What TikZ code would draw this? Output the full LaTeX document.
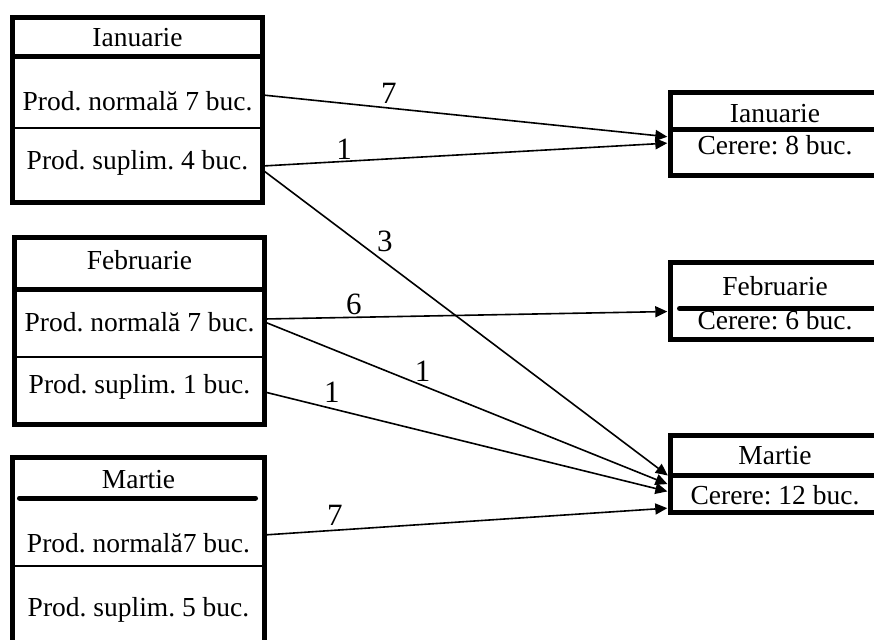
\documentclass[tikz,border=0pt]{standalone}
\usepackage{fontspec}
\setmainfont{Liberation Serif}
\usetikzlibrary{arrows.meta}
\frenchspacing

\begin{document}
\begin{tikzpicture}[x=1pt, y=-1pt,
    row/.style={minimum width=250pt, inner sep=0pt, font=\fontsize{27.5}{33}\selectfont},
    need/.style={row, minimum width=210pt},
    frame/.style={line width=5pt},
    rule/.style={line width=1.5pt},
    flow/.style={line width=1.6pt, -{Triangle[length=12pt,width=11pt]}, shorten >=2.5pt},
    qty/.style={font=\fontsize{31}{35}\selectfont, inner sep=1pt}]
    \useasboundingbox (0,0) rectangle (874,639);
    \clip (0,0) rectangle (874,639);

    % Production, January
    \draw[frame] (12.5,17.5) rectangle (262.5,202.5);
    \draw[frame] (12.5,57) -- (262.5,57);
    \draw[rule] (12.5,128) -- (262.5,128);
    \node[row] (ianH) at (137.5,38) {Ianuarie};
    \node[row] (ianN) at (137.5,101) {Prod. normală 7 buc.};
    \node[row] (ianS) at (137.5,163) {Prod. suplim. 4 buc.};

    % Production, February
    \draw[frame] (14.5,237.5) rectangle (264.5,424.5);
    \draw[frame] (14.5,289.5) -- (264.5,289.5);
    \draw[rule] (14.5,357) -- (264.5,357);
    \node[row] (febH) at (139.5,260) {Februarie};
    \node[row] (febN) at (139.5,322) {Prod. normală 7 buc.};
    \node[row] (febS) at (139.5,387) {Prod. suplim. 1 buc.};

    % Production, March
    \draw[frame] (12.5,660) -- (12.5,457.5) -- (264.5,457.5) -- (264.5,660);
    \draw[frame, line cap=round] (19.5,498) -- (255.5,498);
    \draw[rule] (12.5,566) -- (264.5,566);
    \node[row] (marH) at (138.5,480) {Martie};
    \node[row] (marN) at (138.5,543) {Prod. normală7 buc.};
    \node[row] (marS) at (138.5,610) {Prod. suplim. 5 buc.};

    % Demand
    \draw[frame] (900,92.5) -- (670,92.5) -- (670,175.5) -- (900,175.5);
    \draw[frame] (670,129.5) -- (900,129.5);
    \node[need] (dIanH) at (775,113.5) {Ianuarie};
    \node[need] (dIanC) at (775,145) {Cerere: 8 buc.};

    \draw[frame] (900,262.5) -- (670,262.5) -- (670,339.5) -- (900,339.5);
    \draw[frame, line cap=round] (679.5,308.5) -- (900,308.5);
    \node[need] (dFebH) at (775,286) {Februarie};
    \node[need] (dFebC) at (775,320.5) {Cerere: 6 buc.};

    \draw[frame] (900,435.5) -- (670,435.5) -- (670,512.5) -- (900,512.5);
    \draw[frame] (670,475.5) -- (900,475.5);
    \node[need] (dMarH) at (775,456) {Martie};
    \node[need] (dMarC) at (775,495) {Cerere: 12 buc.};

    % Shipments
    \draw[flow] ([yshift=6pt]ianN.east) -- node[qty, pos=0.31, above=3pt] {7} ([yshift=8pt]dIanC.west);
    \draw[flow] ([yshift=-3pt]ianS.east) -- node[qty, pos=0.2, above] {1} ([yshift=2pt]dIanC.west);
    \draw[flow] ([yshift=-7pt]ianS.east) -- node[qty, pos=0.3, above=9pt] {3} ([yshift=18pt]dMarC.west);
    \draw[flow] ([yshift=3pt]febN.east) -- node[qty, pos=0.22, above=1pt] {6} ([yshift=9pt]dFebC.west);
    \draw[flow] (febN.east) -- node[qty, pos=0.39, above=2pt] {1} ([yshift=10pt]dMarC.west);
    \draw[flow] ([yshift=-5pt]febS.east) -- node[qty, pos=0.166, above=4.5pt] {1} ([yshift=3pt]dMarC.west);
    \draw[flow] ([yshift=8pt]marN.east) -- node[qty, pos=0.175, above=3pt] {7} ([yshift=-13pt]dMarC.west);
\end{tikzpicture}
\end{document}
